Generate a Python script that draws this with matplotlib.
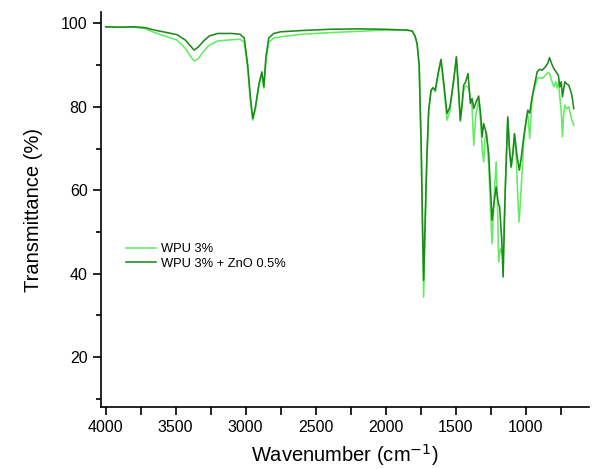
import matplotlib
matplotlib.use("Agg")
import matplotlib.pyplot as plt
from matplotlib.ticker import MultipleLocator

plt.rcParams['font.family'] = ['Liberation Sans', 'DejaVu Sans']

series_labels = ["WPU 3%", "WPU 3% + ZnO 0.5%"]

wn_zno = [4000, 3900, 3800, 3720, 3650, 3560, 3490, 3430, 3400, 3368, 3340, 3300, 3260, 3200, 3100, 3040,
          3010, 2985, 2965, 2949, 2930, 2905, 2884, 2870, 2855, 2835, 2800, 2750, 2600, 2400,
          2200, 2000, 1850, 1810, 1790, 1775, 1760, 1745, 1735, 1728, 1718, 1705, 1692, 1675,
          1661, 1645, 1625, 1604, 1585, 1561, 1540, 1515, 1494, 1480, 1466, 1455, 1442, 1428,
          1411, 1394, 1382, 1370, 1355, 1335, 1320, 1310, 1299, 1280, 1263, 1250, 1239, 1225,
          1210, 1195, 1185, 1170, 1160, 1145, 1127, 1115, 1103, 1090, 1079, 1060, 1044, 1030,
          1013, 984, 970, 955, 941, 917, 900, 881, 860, 840, 829, 815, 798, 774, 765, 755,
          745, 736, 719, 705, 691, 670, 655]
t_zno = [99.2, 99.1, 99.2, 99.0, 98.4, 97.8, 97.3, 96.0, 94.8, 93.6, 94.3, 95.8, 97.0, 97.6, 97.6, 97.4,
         96.5, 90.0, 82.0, 77.2, 80.0, 85.5, 88.4, 84.8, 92.0, 96.5, 97.6, 98.0, 98.3, 98.6,
         98.7, 98.6, 98.4, 98.2, 97.0, 95.2, 90.0, 70.0, 50.0, 38.4, 52.0, 68.0, 79.2, 84.0,
         84.6, 84.0, 88.0, 91.4, 86.0, 78.4, 80.0, 86.0, 92.0, 85.0, 76.8, 80.0, 85.2, 86.0,
         88.0, 80.8, 82.0, 79.6, 81.0, 82.6, 78.0, 72.8, 76.0, 73.6, 68.8, 60.0, 52.8, 57.0,
         60.8, 57.0, 56.0, 48.0, 39.2, 60.0, 77.6, 70.0, 65.6, 69.0, 73.6, 68.0, 64.8, 68.0,
         72.8, 79.2, 78.5, 82.0, 84.4, 88.4, 89.0, 88.8, 89.5, 90.5, 91.8, 90.5, 89.2, 88.0, 87.5, 84.8,
         86.0, 82.4, 86.0, 85.5, 85.2, 83.0, 79.6]

wn_wpu = [4000, 3900, 3800, 3720, 3650, 3560, 3490, 3430, 3400, 3368, 3340, 3300, 3260, 3200, 3100, 3040,
          3010, 2985, 2965, 2949, 2930, 2905, 2884, 2870, 2855, 2835, 2800, 2750, 2600, 2400,
          2200, 2000, 1850, 1810, 1790, 1775, 1760, 1745, 1735, 1728, 1718, 1705, 1692, 1675,
          1661, 1645, 1625, 1604, 1585, 1561, 1540, 1515, 1494, 1480, 1466, 1455, 1442, 1428,
          1411, 1400, 1394, 1382, 1370, 1355, 1335, 1320, 1310, 1299, 1290, 1280, 1263, 1250,
          1239, 1225, 1210, 1200, 1192, 1180, 1170, 1160, 1145, 1127, 1115, 1103, 1090, 1079,
          1065, 1055, 1046, 1035, 1013, 995, 984, 970, 955, 941, 917, 900, 881, 860, 840, 829,
          815, 798, 785, 774, 765, 755, 745, 736, 728, 719, 705, 691, 670, 655]
t_wpu = [99.2, 99.1, 99.1, 98.8, 97.8, 96.8, 96.0, 94.0, 92.4, 91.0, 91.5, 93.3, 94.8, 95.8, 96.1, 96.2,
         95.5, 89.0, 81.0, 76.8, 79.5, 85.0, 88.0, 84.5, 91.0, 95.5, 96.5, 96.8, 97.4, 97.8,
         98.1, 98.4, 98.4, 98.2, 97.0, 95.2, 90.0, 68.0, 47.0, 34.4, 50.0, 67.0, 79.0, 84.0,
         84.4, 83.6, 87.5, 91.2, 85.0, 76.8, 79.0, 86.0, 91.8, 84.0, 76.5, 80.0, 84.0, 85.0,
         84.8, 83.5, 81.6, 80.0, 70.8, 78.0, 81.6, 76.0, 70.0, 66.8, 72.0, 74.0, 66.0, 55.0,
         47.2, 58.0, 66.8, 56.0, 42.8, 46.0, 45.0, 46.0, 60.0, 77.2, 70.0, 65.4, 69.0, 73.2,
         67.0, 58.0, 52.4, 58.0, 71.5, 77.0, 78.5, 72.4, 81.0, 83.8, 86.8, 87.0, 86.8, 87.5, 88.2, 88.0,
         86.5, 84.8, 86.0, 84.5, 86.0, 82.4, 79.0, 72.8, 78.0, 80.4, 79.5, 80.0, 77.0, 75.6]

x_ticks = [4000, 3500, 3000, 2500, 2000, 1500, 1000]
y_ticks = [20, 40, 60, 80, 100]

fig = plt.figure(figsize=(6.0, 4.69), dpi=100)
ax = fig.add_axes([0.168, 0.132, 0.814, 0.842])

ax.plot(wn_wpu, t_wpu, color='#62EC62', lw=1.15, label=series_labels[0])
ax.plot(wn_zno, t_zno, color='#1C8A1C', lw=1.15, label=series_labels[1])

ax.set_xlim(4035, 545)
ax.set_ylim(8, 102.7)
ax.set_xticks(x_ticks)
ax.set_yticks(y_ticks)
ax.xaxis.set_minor_locator(MultipleLocator(250))
ax.yaxis.set_minor_locator(MultipleLocator(10))

for s in ['top', 'right']:
    ax.spines[s].set_visible(False)
for s in ['left', 'bottom']:
    ax.spines[s].set_linewidth(1.2)

ax.tick_params(axis='both', which='major', direction='out', length=6, width=1.2,
               labelsize=11.5, colors='black')
ax.tick_params(axis='x', which='minor', direction='out', length=6, width=1.2)
ax.tick_params(axis='y', which='minor', direction='out', length=3.5, width=1.2)

ax.set_xlabel('Wavenumber (cm$^{-1}$)', fontsize=14.5, labelpad=5)
ax.set_ylabel('Transmittance (%)', fontsize=14.5, labelpad=13)

ax.legend(loc='upper left', bbox_to_anchor=(0.041, 0.428), frameon=False,
          fontsize=9.3, handlelength=2.3, handletextpad=0.4, labelspacing=0.2,
          borderaxespad=0)

fig.savefig('out.png', dpi=100)
